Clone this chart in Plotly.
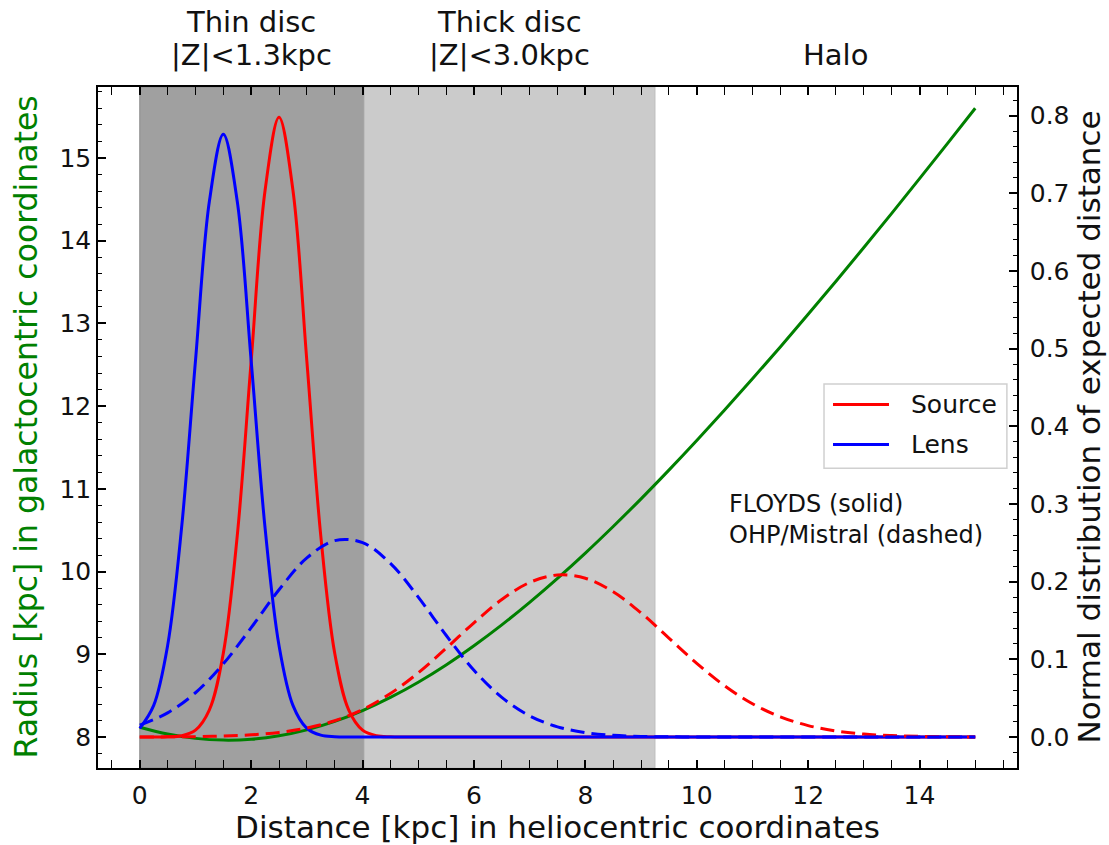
import plotly.graph_objects as go

# ---------------- data ----------------
# fine grid for the narrow FLOYDS curves
d_fine = [0.0, 0.25, 0.5, 0.75, 1.0, 1.25, 1.5, 1.75, 2.0, 2.25, 2.5, 2.75,
          3.0, 3.25, 3.5, 3.75, 4.0, 4.25, 4.5, 4.75, 5.0, 15.0]
source_floyds = [0.0, 0.0, 0.0003, 0.0017, 0.0089, 0.035, 0.108, 0.259, 0.484, 0.704, 0.798, 0.704,
                 0.484, 0.259, 0.108, 0.035, 0.0089, 0.0017, 0.0003, 0.0, 0.0, 0.0]
lens_floyds = [0.0112, 0.0408, 0.1178, 0.2689, 0.4843, 0.6898, 0.776, 0.6898, 0.4843, 0.2689, 0.1178, 0.0408,
               0.0112, 0.0024, 0.0004, 0.0, 0.0, 0.0, 0.0, 0.0, 0.0, 0.0]

# coarse grid for the broad OHP/Mistral curves and the galactocentric radius
d_coarse = [0.0, 0.5, 1.0, 1.5, 2.0, 2.5, 3.0, 3.5, 4.0, 4.5, 5.0, 5.5, 6.0, 6.5, 7.0, 7.5,
            8.0, 8.5, 9.0, 9.5, 10.0, 10.5, 11.0, 11.5, 12.0, 12.5, 13.0, 13.5, 14.0, 14.5, 15.0]
source_ohp = [0.0001, 0.0002, 0.0005, 0.0013, 0.0028, 0.0059, 0.0115, 0.0209, 0.0354, 0.056, 0.0827,
              0.1142, 0.1471, 0.1771, 0.199, 0.2087, 0.2045, 0.187, 0.1598, 0.1274, 0.0949, 0.066,
              0.0428, 0.026, 0.0147, 0.0078, 0.0038, 0.0018, 0.0008, 0.0003, 0.0001]
lens_ohp = [0.0153, 0.0311, 0.057, 0.0943, 0.1408, 0.1897, 0.2306, 0.2529, 0.2503, 0.2236, 0.1802,
            0.131, 0.086, 0.051, 0.0272, 0.0131, 0.0057, 0.0022, 0.0008, 0.0003, 0.0001, 0.0,
            0.0, 0.0, 0.0, 0.0, 0.0, 0.0, 0.0, 0.0, 0.0]
radius_gc = [8.12, 8.037, 7.985, 7.964, 7.974, 8.016, 8.088, 8.19, 8.321, 8.48, 8.664, 8.873,
             9.105, 9.357, 9.629, 9.919, 10.225, 10.546, 10.88, 11.227, 11.585, 11.953, 12.33,
             12.716, 13.11, 13.51, 13.917, 14.33, 14.749, 15.172, 15.6]

# region boundaries and labels
thin_disc = [0.0, 4.03]
thick_disc = [4.03, 9.25]
region_line1 = ["Thin disc", "Thick disc", ""]
region_line2 = ["|Z|<1.3kpc", "|Z|<3.0kpc", "Halo"]
region_label_x = [2.0, 6.64, 12.5]

legend_names = ["Source", "Lens"]
legend_colors = ["#ff0000", "#0000ff"]

x_ticks = [0, 2, 4, 6, 8, 10, 12, 14]
y_ticks = [8, 9, 10, 11, 12, 13, 14, 15]
y2_ticks = [0.0, 0.1, 0.2, 0.3, 0.4, 0.5, 0.6, 0.7, 0.8]

FONT = "DejaVu Sans"
GREEN = "#008000"
TXT = "#111111"

fig = go.Figure()

fig.add_trace(go.Scatter(x=d_coarse, y=radius_gc, mode="lines", name="Radius",
                         line=dict(color=GREEN, width=3, shape="spline"), yaxis="y"))
fig.add_trace(go.Scatter(x=d_fine, y=source_floyds, mode="lines", name="Source",
                         line=dict(color=legend_colors[0], width=3, shape="spline"), yaxis="y2"))
fig.add_trace(go.Scatter(x=d_fine, y=lens_floyds, mode="lines", name="Lens",
                         line=dict(color=legend_colors[1], width=3, shape="spline"), yaxis="y2"))
fig.add_trace(go.Scatter(x=d_coarse, y=source_ohp, mode="lines", name="Source (OHP/Mistral)",
                         line=dict(color=legend_colors[0], width=3, shape="spline", dash="14px,7px"), yaxis="y2"))
fig.add_trace(go.Scatter(x=d_coarse, y=lens_ohp, mode="lines", name="Lens (OHP/Mistral)",
                         line=dict(color=legend_colors[1], width=3, shape="spline", dash="14px,7px"), yaxis="y2"))

# shaded regions
fig.add_shape(type="rect", xref="x", yref="paper", x0=thin_disc[0], x1=thin_disc[1], y0=0, y1=1,
              fillcolor="#a0a0a0", line=dict(color="#8c8c8c", width=1), layer="below")
fig.add_shape(type="rect", xref="x", yref="paper", x0=thick_disc[0], x1=thick_disc[1], y0=0, y1=1,
              fillcolor="#cbcbcb", line=dict(color="#bdbdbd", width=1), layer="below")

# region labels above the plot (two lines each)
for l1, l2, xx in zip(region_line1, region_line2, region_label_x):
    if l1:
        fig.add_annotation(x=xx, xref="x", y=1.0955, yref="paper", yanchor="middle",
                           text=l1, showarrow=False, font=dict(family=FONT, size=29, color=TXT))
    fig.add_annotation(x=xx, xref="x", y=1.0468, yref="paper", yanchor="middle",
                       text=l2, showarrow=False, font=dict(family=FONT, size=29, color=TXT))

fig.add_annotation(x=10.55, xref="x", y=0.365, yref="paper", xanchor="left", yanchor="middle",
                   text="FLOYDS (solid)<br>OHP/Mistral (dashed)", showarrow=False, align="left",
                   font=dict(family=FONT, size=24, color=TXT))

# legend box (drawn like the matplotlib legend)
fig.add_shape(type="rect", xref="paper", yref="paper", x0=0.790, x1=0.989, y0=0.440, y1=0.564,
              fillcolor="rgba(255,255,255,0.85)", line=dict(color="#d0d0d0", width=1.5), layer="above")
leg_y = [0.5336, 0.4751]
for name, col, yy in zip(legend_names, legend_colors, leg_y):
    fig.add_shape(type="line", xref="paper", yref="paper", x0=0.7998, x1=0.8607, y0=yy, y1=yy,
                  line=dict(color=col, width=3), layer="above")
    fig.add_annotation(x=0.8825, xref="paper", y=yy, yref="paper", xanchor="left", yanchor="middle",
                       text=name, showarrow=False, font=dict(family=FONT, size=25, color=TXT))

# y axis titles as rotated annotations
fig.add_annotation(x=0, xref="paper", xshift=-73, y=0.5, yref="paper", textangle=-90,
                   text="Radius [kpc] in galactocentric coordinates", showarrow=False,
                   font=dict(family=FONT, size=31.5, color=GREEN), xanchor="center", yanchor="middle")
fig.add_annotation(x=1, xref="paper", xshift=71, y=0.5, yref="paper", textangle=-90,
                   text="Normal distribution of expected distance", showarrow=False,
                   font=dict(family=FONT, size=31, color=TXT), xanchor="center", yanchor="middle")

axis_common = dict(showgrid=False, zeroline=False, showline=True, linecolor="black", linewidth=1.5,
                   ticks="inside", ticklen=8, tickwidth=1.5, tickcolor="black",
                   tickfont=dict(family=FONT, size=25, color=TXT))

fig.update_layout(
    width=1109, height=845,
    margin=dict(l=98, r=92, t=87, b=74),
    plot_bgcolor="white", paper_bgcolor="white",
    xaxis=dict(range=[-0.75, 15.75], tickvals=x_ticks, mirror="allticks", ticklabelstandoff=4,
               minor=dict(ticks="inside", dtick=0.5, tick0=0, ticklen=4, tickwidth=1.2, tickcolor="black"),
               title=dict(text="Distance [kpc] in heliocentric coordinates",
                          font=dict(family=FONT, size=31, color=TXT), standoff=2),
               **axis_common),
    yaxis=dict(range=[7.627, 15.857], tickvals=y_ticks,
               minor=dict(ticks="inside", dtick=0.2, tick0=0, ticklen=4, tickwidth=1.2, tickcolor="black"),
               **axis_common),
    yaxis2=dict(range=[-0.0399, 0.837], tickvals=y2_ticks, tickformat=".1f", overlaying="y", side="right",
                ticklabelstandoff=6,
                minor=dict(ticks="inside", dtick=0.02, tick0=0, ticklen=4, tickwidth=1.2, tickcolor="black"),
                **axis_common),
    showlegend=False,
)

fig.write_html("out.html")
